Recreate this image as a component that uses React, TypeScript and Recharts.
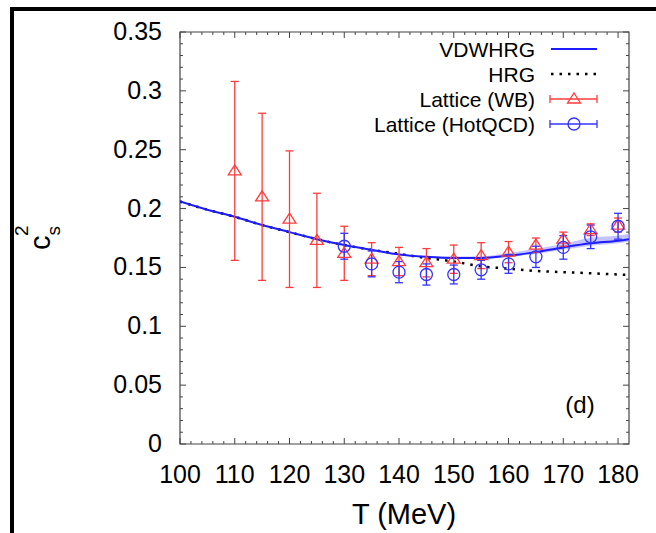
import React from 'react';
import {
  ComposedChart,
  XAxis,
  YAxis,
  Line,
  Area,
  Scatter,
  ErrorBar,
  ReferenceArea
} from 'recharts';

// model curves
const T_MODEL = [100, 105, 110, 115, 120, 125, 130, 135, 140, 145, 150, 155, 160, 165, 170, 175, 180, 182];
const VDWHRG = [0.206, 0.199, 0.193, 0.186, 0.180, 0.174, 0.169, 0.165, 0.161, 0.159, 0.158, 0.158, 0.160, 0.163, 0.167, 0.1705, 0.1727, 0.174];
const BAND_LO = [0.2057, 0.1987, 0.1927, 0.1857, 0.1797, 0.1737, 0.1687, 0.1647, 0.1606, 0.1584, 0.1572, 0.1572, 0.159, 0.1615, 0.165, 0.1685, 0.1705, 0.172];
const BAND_HI = [0.2063, 0.1993, 0.1933, 0.1863, 0.1803, 0.1743, 0.1693, 0.1653, 0.1614, 0.1598, 0.1592, 0.1595, 0.162, 0.1658, 0.170, 0.1752, 0.1772, 0.1785];
const HRG = [0.206, 0.199, 0.193, 0.186, 0.180, 0.174, 0.169, 0.165, 0.1615, 0.158, 0.155, 0.151, 0.149, 0.147, 0.146, 0.145, 0.144, 0.1435];

// lattice data
const T_WB = [110, 115, 120, 125, 130, 135, 140, 145, 150, 155, 160, 165, 170, 175, 180];
const CS2_WB = [0.232, 0.210, 0.191, 0.173, 0.162, 0.157, 0.155, 0.154, 0.157, 0.160, 0.163, 0.169, 0.174, 0.182, 0.186];
const ERR_WB = [0.076, 0.071, 0.058, 0.040, 0.023, 0.014, 0.012, 0.012, 0.012, 0.011, 0.009, 0.006, 0.006, 0.005, 0.006];

const T_HOT = [130, 135, 140, 145, 150, 155, 160, 165, 170, 175, 180];
const CS2_HOT = [0.168, 0.153, 0.146, 0.144, 0.144, 0.148, 0.153, 0.159, 0.167, 0.176, 0.185];
const ERR_HOT = [0.011, 0.011, 0.009, 0.009, 0.008, 0.008, 0.008, 0.009, 0.010, 0.010, 0.011];

const X_TICKS = [100, 110, 120, 130, 140, 150, 160, 170, 180];
const Y_TICKS = [0, 0.05, 0.1, 0.15, 0.2, 0.25, 0.3, 0.35];
const Y_TICK_LABELS = ['0', '0.05', '0.1', '0.15', '0.2', '0.25', '0.3', '0.35'];

const X_MINOR = Array.from({ length: 41 }, (_, i) => 100 + i * 2);
const Y_MINOR = Array.from({ length: 36 }, (_, i) => i / 100);

const W = 656;
const H = 533;
const M = { top: 32, right: 27 };
const Y_AXIS_W = 180;
const X_AXIS_H = 89;
const PLOT_LEFT = Y_AXIS_W;
const PLOT_RIGHT = W - M.right;
const PLOT_TOP = M.top;
const PLOT_BOTTOM = H - X_AXIS_H;

const FONT = '"Liberation Sans", Arial, Helvetica, sans-serif';
const RED = '#ff3b3b';
const BLUE = '#3434ff';
const LINE_BLUE = '#1c1cff';
const AXIS = '#444';

const modelData = T_MODEL.map((t, i) => ({ T: t, vdw: VDWHRG[i], hrg: HRG[i], band: [BAND_LO[i], BAND_HI[i]] }));
const wbData = T_WB.map((t, i) => ({ T: t, y: CS2_WB[i], err: ERR_WB[i] }));
const hotData = T_HOT.map((t, i) => ({ T: t, y: CS2_HOT[i], err: ERR_HOT[i] }));

const XTick = (props: any) => {
  const { x, payload } = props;
  const v = payload.value;
  const major = X_TICKS.includes(v);
  const len = major ? 6 : 3;
  return (
    <g>
      <line x1={x} x2={x} y1={PLOT_BOTTOM} y2={PLOT_BOTTOM - len} stroke={AXIS} strokeWidth={1} />
      <line x1={x} x2={x} y1={PLOT_TOP} y2={PLOT_TOP + len} stroke={AXIS} strokeWidth={1} />
      {major && (
        <text x={x} y={PLOT_BOTTOM + 39} textAnchor="middle" fontSize={25} fontFamily={FONT} fill="#000">
          {v}
        </text>
      )}
    </g>
  );
};

const YTick = (props: any) => {
  const { y, payload } = props;
  const v = payload.value;
  const idx = Y_TICKS.findIndex((t) => Math.abs(t - v) < 1e-9);
  const major = idx >= 0;
  const len = major ? 6 : 3;
  return (
    <g>
      <line x1={PLOT_LEFT} x2={PLOT_LEFT + len} y1={y} y2={y} stroke={AXIS} strokeWidth={1} />
      <line x1={PLOT_RIGHT} x2={PLOT_RIGHT - len} y1={y} y2={y} stroke={AXIS} strokeWidth={1} />
      {major && (
        <text x={PLOT_LEFT - 18} y={y + 8} textAnchor="end" fontSize={25} fontFamily={FONT} fill="#000">
          {Y_TICK_LABELS[idx]}
        </text>
      )}
    </g>
  );
};

const Triangle = ({ cx, cy }: any) => (
  <path d={`M${cx},${cy - 6} L${cx + 6.5},${cy + 4} L${cx - 6.5},${cy + 4} Z`} fill="none" stroke={RED} strokeWidth={1.3} />
);

const Circle = ({ cx, cy }: any) => <circle cx={cx} cy={cy} r={6} fill="none" stroke={BLUE} strokeWidth={1.3} />;

const LegendRow = ({ y, label, children }: any) => (
  <g>
    <text x={535} y={y + 8} textAnchor="end" fontSize={21} fontFamily={FONT} fill="#000">
      {label}
    </text>
    {children}
  </g>
);

export default function App() {
  return (
    <div style={{ position: 'absolute', left: 0, top: 0, width: W, height: H, background: '#fff' }}>
      <ComposedChart width={W} height={H} margin={{ top: M.top, right: M.right, left: 0, bottom: 0 }}>
        <XAxis
          dataKey="T"
          type="number"
          domain={[100, 182]}
          ticks={X_MINOR}
          interval={0}
          allowDataOverflow
          axisLine={false}
          tickLine={false}
          tick={<XTick />}
          height={X_AXIS_H}
        />
        <YAxis
          type="number"
          domain={[0, 0.35]}
          ticks={Y_MINOR}
          interval={0}
          allowDataOverflow
          axisLine={false}
          tickLine={false}
          tick={<YTick />}
          width={Y_AXIS_W}
        />
        <ReferenceArea x1={100} x2={182} y1={0} y2={0.35} fill="none" stroke={AXIS} strokeWidth={1.2} />
        <Area
          data={modelData}
          dataKey="band"
          type="monotone"
          fill="#a9a9ff"
          fillOpacity={0.7}
          stroke="none"
          isAnimationActive={false}
        />
        <Line
          data={modelData}
          dataKey="hrg"
          type="monotone"
          stroke="#000"
          strokeWidth={2.5}
          strokeDasharray="2.5 6"
          dot={false}
          isAnimationActive={false}
        />
        <Line
          data={modelData}
          dataKey="vdw"
          type="monotone"
          stroke={LINE_BLUE}
          strokeWidth={2}
          dot={false}
          isAnimationActive={false}
        />
        <Scatter data={wbData} dataKey="y" shape={(p: any) => <Triangle cx={p.cx} cy={p.cy} />} isAnimationActive={false}>
          <ErrorBar dataKey="err" direction="y" width={4} stroke={RED} strokeWidth={1.3} />
        </Scatter>
        <Scatter data={hotData} dataKey="y" shape={(p: any) => <Circle cx={p.cx} cy={p.cy} />} isAnimationActive={false}>
          <ErrorBar dataKey="err" direction="y" width={4} stroke={BLUE} strokeWidth={1.3} />
        </Scatter>
      </ComposedChart>
      <svg width={W} height={H} style={{ position: 'absolute', left: 0, top: 0, pointerEvents: 'none' }}>
        {/* page frame */}
        <rect x={10} y={7} width={W - 10} height={4} fill="#000" />
        <rect x={10} y={7} width={4} height={H - 7} fill="#000" />

        {/* legend */}
        <LegendRow y={49} label="VDWHRG">
          <line x1={551} x2={597} y1={49} y2={49} stroke={LINE_BLUE} strokeWidth={2} />
        </LegendRow>
        <LegendRow y={74} label="HRG">
          <line x1={551} x2={597} y1={74} y2={74} stroke="#000" strokeWidth={2.5} strokeDasharray="2.5 6" />
        </LegendRow>
        <LegendRow y={99} label="Lattice (WB)">
          <line x1={550} x2={597} y1={99} y2={99} stroke={RED} strokeWidth={1.3} />
          <line x1={550} x2={550} y1={95} y2={103} stroke={RED} strokeWidth={1.3} />
          <line x1={597} x2={597} y1={95} y2={103} stroke={RED} strokeWidth={1.3} />
          <Triangle cx={574} cy={99} />
        </LegendRow>
        <LegendRow y={124} label="Lattice (HotQCD)">
          <line x1={550} x2={597} y1={124} y2={124} stroke={BLUE} strokeWidth={1.3} />
          <line x1={550} x2={550} y1={120} y2={128} stroke={BLUE} strokeWidth={1.3} />
          <line x1={597} x2={597} y1={120} y2={128} stroke={BLUE} strokeWidth={1.3} />
          <Circle cx={574} cy={124} />
        </LegendRow>

        <text x={580} y={413} textAnchor="middle" fontSize={24} fontFamily={FONT} fill="#000">
          (d)
        </text>

        <text x={404} y={524} textAnchor="middle" fontSize={29} fontFamily={FONT} fill="#000">
          T (MeV)
        </text>

        <text transform="rotate(-90, 50, 250)" x={50} y={250} fontSize={29} fontFamily={FONT} fill="#000">
          c
          <tspan fontSize={19} dy={10}>s</tspan>
          <tspan fontSize={19} dx={-10} dy={-32}>2</tspan>
        </text>
      </svg>
    </div>
  );
}
